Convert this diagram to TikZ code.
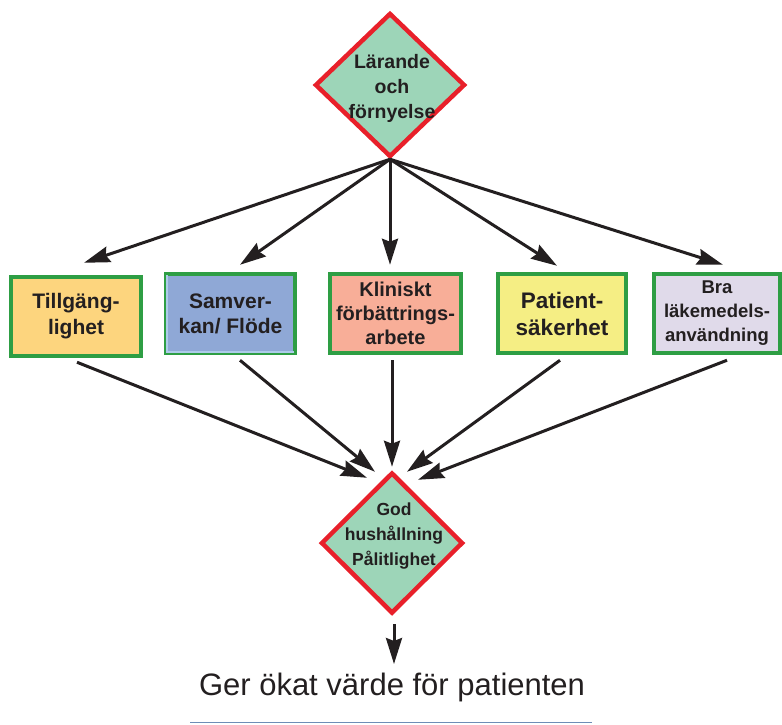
\documentclass[tikz,border=0pt]{standalone}
\usepackage{fontspec}
\setmainfont{Liberation Sans}
\usetikzlibrary{arrows.meta,shapes.geometric}

\definecolor{ink}{HTML}{231F20}
\definecolor{framegreen}{HTML}{2E9E44}
\definecolor{framered}{HTML}{E8202A}
\definecolor{mint}{HTML}{9DD5B8}
\definecolor{fillorange}{HTML}{FDD57E}
\definecolor{fillblue}{HTML}{8FA8D6}
\definecolor{fillblueedge}{HTML}{AECBEA}
\definecolor{fillsalmon}{HTML}{F8AE98}
\definecolor{fillyellow}{HTML}{F5EE84}
\definecolor{filllilac}{HTML}{E0DAEA}
\definecolor{rulecolor}{HTML}{6E8DB6}

\tikzset{
  topic/.style={rectangle, draw=framegreen, line width=4.5pt, inner sep=0pt,
    align=center, text=ink, minimum height=79pt},
  gate/.style={diamond, draw=framered, fill=mint, line width=4.5pt, inner sep=0pt},
  gatetext/.style={align=center, text=ink},
  flow/.style={draw=ink, line width=3pt,
    -{Stealth[length=26pt, width=16pt, inset=3pt]}},
}

\begin{document}
\begin{tikzpicture}[x=1pt, y=-1pt]
\useasboundingbox (0,0) rectangle (782,724);

% upper diamond
\node[gate, minimum width=150pt, minimum height=144pt] (learn) at (390,85) {};
\node[gatetext, font={\bfseries\fontsize{19.5}{25}\selectfont}] (learnlabel)
      at (392,88) {Lärande\\och\\förnyelse};

% the five focus areas
\node[topic, fill=fillorange, minimum width=130pt,
      font={\bfseries\fontsize{21}{26}\selectfont}] (access) at (76,316.5)
      {Tillgäng-\\lighet};
\node[topic, fill=fillblue, minimum width=129pt,
      font={\bfseries\fontsize{21}{25}\selectfont}] (flowbox) at (230.5,313.5)
      {Samver-\\kan/ Flöde};
\node[topic, fill=fillsalmon, minimum width=131pt,
      font={\bfseries\fontsize{20}{24}\selectfont}] (improve) at (395.5,313.5)
      {Kliniskt\\förbättrings-\\arbete};
\node[topic, fill=fillyellow, minimum width=128pt,
      font={\bfseries\fontsize{22.5}{27}\selectfont}] (safety) at (562,313.5)
      {Patient-\\säkerhet};
\node[topic, fill=filllilac, minimum width=126pt,
      font={\bfseries\fontsize{18.5}{24}\selectfont}] (drugs) at (717,313.5)
      {Bra\\läkemedels-\\användning};

% light inner edge of the blue box
\draw[fillblueedge, line width=2pt]
  ([xshift=3.5pt, yshift=-3.5pt]flowbox.north west)
  -- ([xshift=3.5pt, yshift=3.5pt]flowbox.south west)
  -- ([xshift=-3.5pt, yshift=3.5pt]flowbox.south east);

% lower diamond
\node[gate, minimum width=142pt, minimum height=141pt] (value) at (392,543) {};
\node[gatetext, font={\bfseries\fontsize{17.5}{25}\selectfont}] (valuelabel)
      at (394,536) {God\\hushållning\\Pålitlighet};

% arrows from the upper diamond
\draw[flow] (learn.south) -- ([xshift=8pt, yshift=12pt]access.north);
\draw[flow] (learn.south) -- ([xshift=9.5pt, yshift=7pt]flowbox.north);
\draw[flow] (learn.south) -- ([xshift=-5.5pt, yshift=7pt]improve.north);
\draw[flow] (learn.south) -- ([xshift=-5pt, yshift=6pt]safety.north);
\draw[flow] (learn.south) -- ([xshift=6pt, yshift=7pt]drugs.north);

% arrows into the lower diamond
\draw[flow] ([xshift=1pt, yshift=-4pt]access.south) -- ([xshift=-25pt, yshift=-7.5pt]value.north);
\draw[flow] ([xshift=9.5pt, yshift=-5pt]flowbox.south) -- ([xshift=-17pt, yshift=-1.5pt]value.north);
\draw[flow] ([xshift=-3.5pt, yshift=-5pt]improve.south) -- ([xshift=0pt, yshift=3.5pt]value.north);
\draw[flow] ([xshift=-2pt, yshift=-5pt]safety.south) -- ([xshift=15pt, yshift=-1.5pt]value.north);
\draw[flow] ([xshift=10pt, yshift=-5pt]drugs.south) -- ([xshift=26pt, yshift=-9.5pt]value.north);

% outcome
\coordinate (outcometip) at (394,664);
\draw[flow] ([xshift=2pt, yshift=-8.5pt]value.south) -- (outcometip);
\node[anchor=base, text=ink, inner sep=0pt,
      font={\fontsize{31}{36}\selectfont}] (outcome) at (392,695)
      {Ger ökat värde för patienten};
\coordinate (ruleleft) at (190,722.5);
\coordinate (ruleright) at (592,722.5);
\draw[rulecolor, line width=1.5pt] (ruleleft) -- (ruleright);
\end{tikzpicture}
\end{document}
